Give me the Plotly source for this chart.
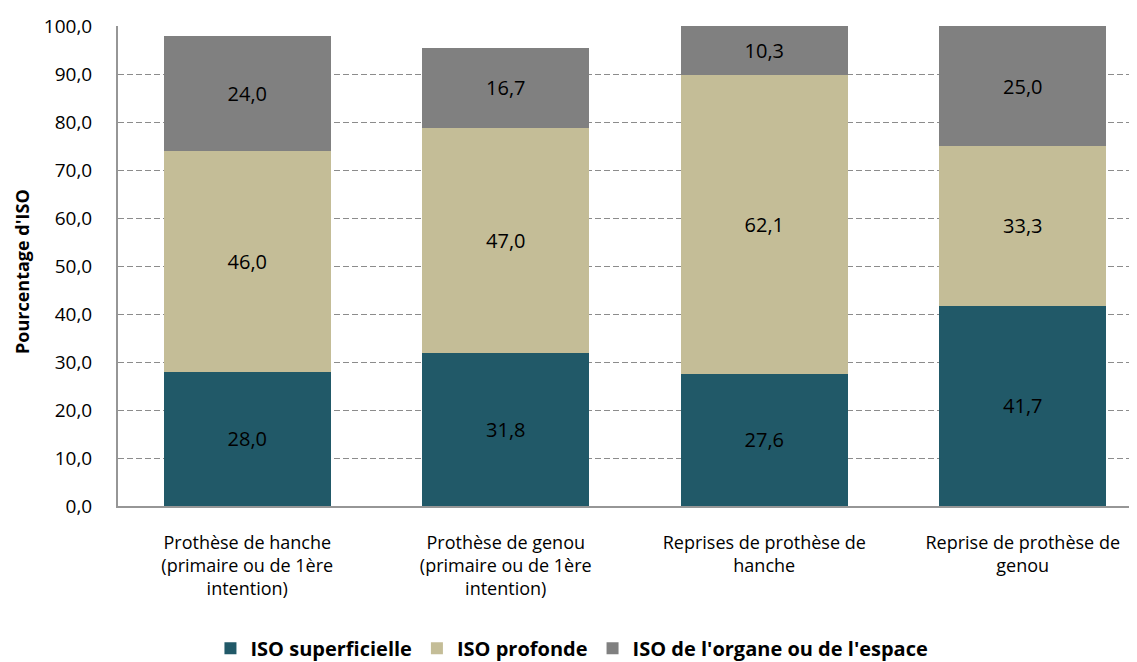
import plotly.graph_objects as go

categories = [
    "Prothèse de hanche<br>(primaire ou de 1ère<br>intention)",
    "Prothèse de genou<br>(primaire ou de 1ère<br>intention)",
    "Reprises de prothèse de<br>hanche",
    "Reprise de prothèse de<br>genou",
]
superficielle = [28.0, 31.8, 27.6, 41.7]
profonde = [46.0, 47.0, 62.1, 33.3]
organe = [24.0, 16.7, 10.3, 25.0]

series = [
    ("ISO superficielle", superficielle, "#215968"),
    ("ISO profonde", profonde, "#C4BD97"),
    ("ISO de l'organe ou de l'espace", organe, "#808080"),
]

FONT = "'Open Sans', sans-serif"
x = list(range(len(categories)))

fig = go.Figure()
for name, vals, col in series:
    fig.add_trace(go.Bar(
        x=x, y=vals, name=name, marker=dict(color=col, line=dict(width=0)),
        width=0.646,
        texttemplate="%{y:.1f}", textposition="inside", insidetextanchor="middle",
        textfont=dict(color="black", size=20, family=FONT),
        hoverinfo="skip",
    ))

# page body adds an 8px offset; margins compensate
fig.update_layout(
    barmode="stack",
    separators=",.",
    width=1137, height=662,
    margin=dict(l=110, r=8, t=18, b=164, autoexpand=False),
    plot_bgcolor="white", paper_bgcolor="white",
    font=dict(family=FONT, size=17, color="black"),
    showlegend=True,
    legend=dict(orientation="h", xref="container", x=0.496, xanchor="center",
                yref="container", y=0.033, yanchor="middle",
                font=dict(size=20, family=FONT, weight="bold"),
                traceorder="normal"),
    uniformtext=dict(minsize=10, mode="show"),
    annotations=[dict(
        text="<b>Pourcentage d'ISO</b>", textangle=-90,
        xref="paper", yref="paper", x=-0.0942, y=0.4875,
        xanchor="center", yanchor="middle", showarrow=False,
        font=dict(size=18, family=FONT, color="black"),
    )],
)
fig.update_xaxes(
    tickvals=x, ticktext=categories, range=[-0.5, 3.442],
    showline=True, linecolor="#969696", linewidth=2, ticks="", showgrid=False,
    tickfont=dict(size=18), ticklabelstandoff=19, automargin=False,
)
fig.update_yaxes(
    range=[0, 100], dtick=10, tickformat=".1f",
    showline=True, linecolor="#969696", linewidth=2,
    ticks="",
    showgrid=True, gridcolor="#8c8c8c", griddash="6px,3px", gridwidth=1,
    zeroline=False, automargin=False,
    tickfont=dict(size=19), ticklabelstandoff=20,
)

fig.write_html("out.html")
